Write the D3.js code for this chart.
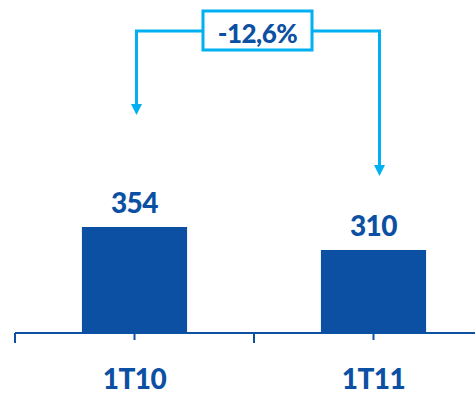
<!DOCTYPE html>
<html>
<head>
<meta charset="utf-8">
<script src="https://cdn.jsdelivr.net/npm/d3@7"></script>
<style>
  html, body { margin: 0; padding: 0; background: #fff; }
  svg { display: block; }
  text { font-family: Lato, "Open Sans", sans-serif; font-weight: 900; }
</style>
</head>
<body>
<svg id="chart" width="475" height="395"></svg>
<script>
const categories = ["1T10", "1T11"];
const values = [354, 310];
const valueLabels = ["354", "310"];
const changeLabel = "-12,6%";

const W = 475, H = 395;
const darkBlue = "#0b50a3";
const lightBlue = "#00b0f0";

const svg = d3.select("#chart");

const x = d3.scaleBand().domain(categories).range([15, 493]).paddingInner(0).paddingOuter(0);
const y = d3.scaleLinear().domain([151, 354]).range([333, 227]);
const barW = x.bandwidth() * 0.44;

// bars
svg.selectAll("rect.bar").data(values).enter().append("rect")
  .attr("class", "bar")
  .attr("x", (d, i) => x(categories[i]) + x.bandwidth() / 2 - barW / 2)
  .attr("y", d => y(d))
  .attr("width", barW)
  .attr("height", d => y.range()[0] - y(d))
  .attr("fill", darkBlue);

// axis line
const axisY = y.range()[0];
svg.append("line")
  .attr("x1", 15).attr("x2", W)
  .attr("y1", axisY).attr("y2", axisY)
  .attr("stroke", darkBlue).attr("stroke-width", 2);

// long ticks at band boundaries, short ticks at band centres
categories.forEach(c => {
  svg.append("line")
    .attr("x1", x(c)).attr("x2", x(c))
    .attr("y1", axisY).attr("y2", axisY + 10)
    .attr("stroke", darkBlue).attr("stroke-width", 2);
  const cx = x(c) + x.bandwidth() / 2;
  svg.append("line")
    .attr("x1", cx).attr("x2", cx)
    .attr("y1", axisY).attr("y2", axisY + 7)
    .attr("stroke", darkBlue).attr("stroke-width", 2);
});

// category labels
svg.selectAll("text.cat").data(categories).enter().append("text")
  .attr("class", "cat")
  .attr("x", d => x(d) + x.bandwidth() / 2)
  .attr("y", 389)
  .attr("text-anchor", "middle")
  .attr("font-size", 28)
  .attr("letter-spacing", -0.5)
  .attr("fill", darkBlue)
  .text(d => d);

// value labels
svg.selectAll("text.val").data(values).enter().append("text")
  .attr("class", "val")
  .attr("x", (d, i) => x(categories[i]) + x.bandwidth() / 2)
  .attr("y", d => y(d) - 14)
  .attr("text-anchor", "middle")
  .attr("font-size", 28)
  .attr("letter-spacing", -0.5)
  .attr("fill", darkBlue)
  .text((d, i) => valueLabels[i]);

// change annotation
const lx = x(categories[0]) + x.bandwidth() / 2 + 2;
const rx = x(categories[1]) + x.bandwidth() / 2 + 6;
const lineY = 31;
const boxX0 = 203, boxX1 = 312, boxY0 = 11, boxY1 = 50;
const leftTip = 115, rightTip = 176;
const ah = 11, aw = 11;

const g = svg.append("g");
g.append("path")
  .attr("d", `M${boxX0},${lineY} H${lx} V${leftTip - ah + 1}`)
  .attr("fill", "none").attr("stroke", lightBlue).attr("stroke-width", 3);
g.append("path")
  .attr("d", `M${boxX1},${lineY} H${rx} V${rightTip - ah + 1}`)
  .attr("fill", "none").attr("stroke", lightBlue).attr("stroke-width", 3);
g.append("path")
  .attr("d", `M${lx - aw / 2},${leftTip - ah} L${lx + aw / 2},${leftTip - ah} L${lx},${leftTip} Z`)
  .attr("fill", lightBlue);
g.append("path")
  .attr("d", `M${rx - aw / 2},${rightTip - ah} L${rx + aw / 2},${rightTip - ah} L${rx},${rightTip} Z`)
  .attr("fill", lightBlue);
g.append("rect")
  .attr("x", boxX0).attr("y", boxY0)
  .attr("width", boxX1 - boxX0).attr("height", boxY1 - boxY0)
  .attr("fill", "#fff").attr("stroke", lightBlue).attr("stroke-width", 3);
g.append("text")
  .attr("x", (boxX0 + boxX1) / 2)
  .attr("y", 43)
  .attr("text-anchor", "middle")
  .attr("font-size", 26)
  .attr("letter-spacing", -0.5)
  .attr("fill", darkBlue)
  .text(changeLabel);
</script>
</body>
</html>
